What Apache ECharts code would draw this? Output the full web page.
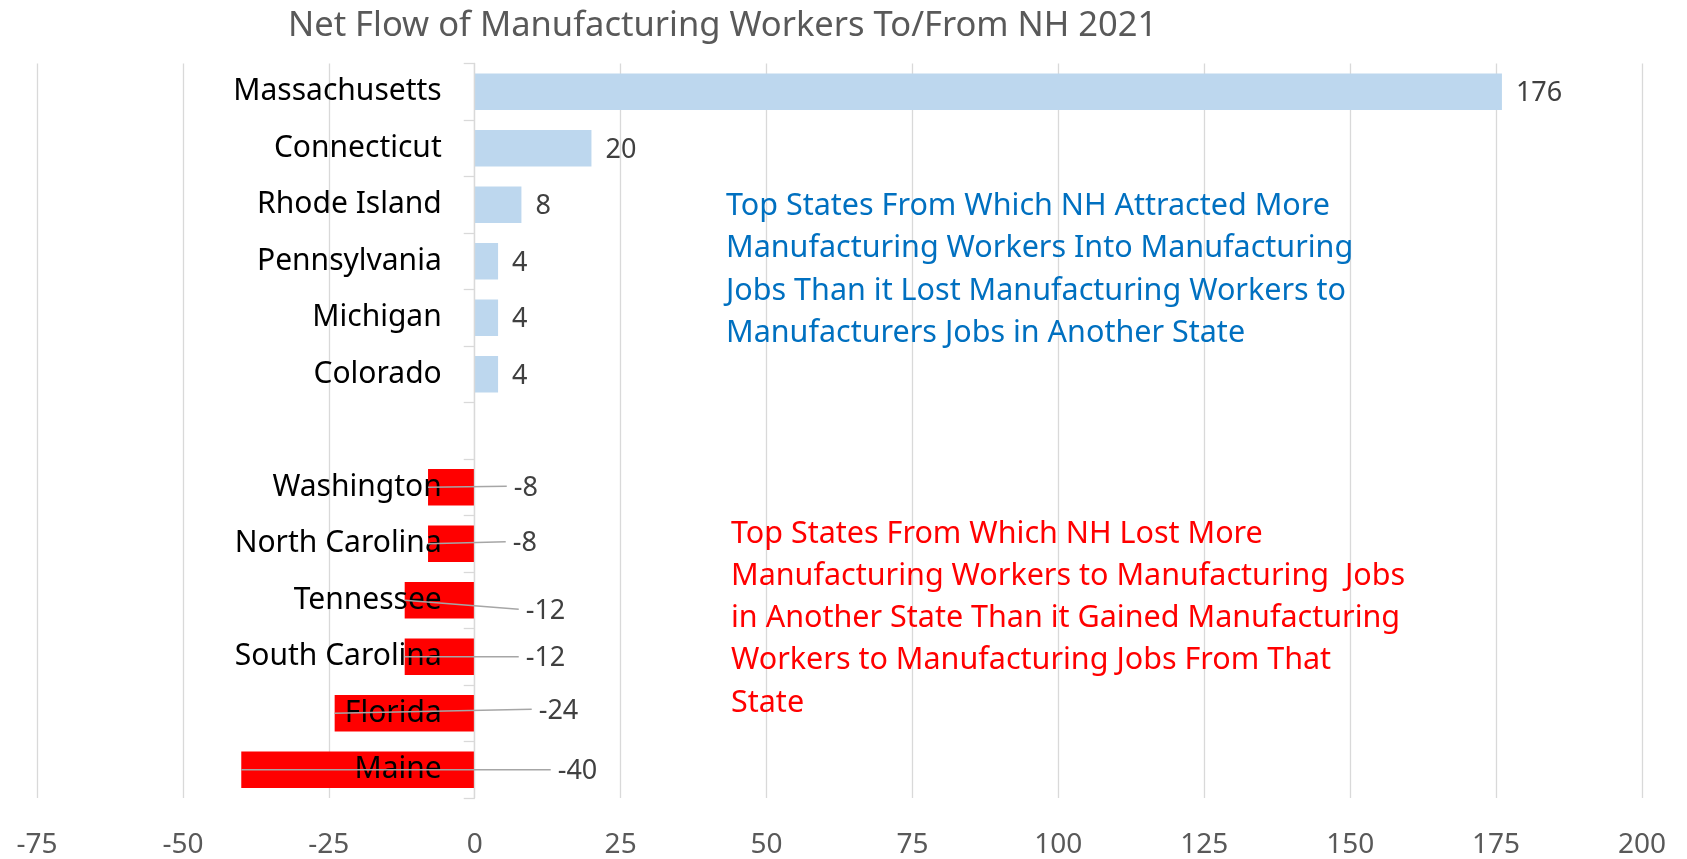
<!DOCTYPE html>
<html>
<head>
<meta charset="utf-8">
<script src="https://cdn.jsdelivr.net/npm/echarts@6/dist/echarts.min.js"></script>
<style>
html,body{margin:0;padding:0;background:#fff;}
#chart{width:1687px;height:859px;}
</style>
</head>
<body>
<div id="chart"></div>
<script>
const titleText = 'Net Flow of Manufacturing Workers To/From NH 2021';
const states = ['Massachusetts','Connecticut','Rhode Island','Pennsylvania','Michigan','Colorado','',
  'Washington','North Carolina','Tennessee','South Carolina','Florida','Maine'];
const netFlow = [176, 20, 8, 4, 4, 4, null, -8, -8, -12, -12, -24, -40];
const xTickMin = -75, xTickMax = 200, xTickStep = 25;
const gainNote = ['Top States From Which NH Attracted More',
  'Manufacturing Workers Into Manufacturing',
  'Jobs Than it Lost Manufacturing Workers to',
  'Manufacturers Jobs in Another State'];
const lossNote = ['Top States From Which NH Lost More',
  'Manufacturing Workers to Manufacturing  Jobs',
  'in Another State Than it Gained Manufacturing',
  'Workers to Manufacturing Jobs From That',
  'State'];

// layout: pixel nudges for the moved negative labels (relative to the zero line)
const negLabelNudge = {7:[39,0], 8:[38,-1], 9:[51,10], 10:[51,1], 11:[64,-3], 12:[83,1]};

const FONT = '"Noto Sans", "Open Sans", sans-serif';
const BLUE_BAR = '#BDD7EE', RED_BAR = '#FF0000';
const GRID_LEFT = 37;

const barData = netFlow.map(v => v == null ? null : {
  value: v,
  itemStyle: {color: v >= 0 ? BLUE_BAR : RED_BAR},
  label: {show: v >= 0}
});
const negData = [];
netFlow.forEach((v, i) => { if (v != null && v < 0) negData.push([v, i]); });

const chart = echarts.init(document.getElementById('chart'));
chart.setOption({
  animation: false,
  title: {
    text: titleText, left: 283, top: 4,
    textStyle: {fontFamily: FONT, fontSize: 34.5, fontWeight: 'normal', color: '#595959'}
  },
  grid: {left: GRID_LEFT, right: 45, top: 63.5, bottom: 61, containLabel: false, outerBoundsMode: 'none'},
  xAxis: {
    type: 'value', min: xTickMin, max: xTickMax, interval: xTickStep,
    axisLine: {show: false}, axisTick: {show: false},
    splitLine: {lineStyle: {color: '#D9D9D9', width: 1.3}},
    axisLabel: {fontFamily: FONT, fontSize: 28, color: '#595959', margin: 33}
  },
  yAxis: {
    type: 'category', data: states, inverse: true, z: 5, offset: 0,
    axisLine: {onZero: false, lineStyle: {color: '#D9D9D9', width: 1.3}},
    axisTick: {show: true, length: 11, lineStyle: {color: '#D9D9D9', width: 1.3}},
    axisLabel: {fontFamily: FONT, fontSize: 30, color: '#000000', margin: 33, padding: [4, 0, 0, 0]},
    splitLine: {show: false}
  },
  series: [{
    type: 'bar', data: barData, barCategoryGap: '35%', z: 2,
    label: {position: 'right', distance: 14, offset: [0, 2], fontFamily: FONT, fontSize: 27, color: '#404040'}
  }, {
    type: 'custom', data: negData, z: 8,
    encode: {x: 0, y: 1},
    renderItem: function (params, api) {
      const v = api.value(0), ci = api.value(1);
      const start = api.coord([v, ci]);
      const zero = api.coord([0, ci]);
      const nudge = negLabelNudge[ci] || [40, 0];
      const tx = zero[0] + nudge[0], ty = zero[1] + nudge[1];
      return {
        type: 'group',
        children: [{
          type: 'line',
          shape: {x1: start[0], y1: start[1], x2: tx - 7, y2: ty - 1},
          style: {stroke: '#A6A6A6', lineWidth: 1.3}
        }, {
          type: 'text',
          style: {text: String(v), x: tx, y: ty + 1, verticalAlign: 'middle', align: 'left',
                  font: '27px ' + FONT, fill: '#404040'}
        }]
      };
    }
  }],
  graphic: [{
    type: 'text', left: 726, top: 185, z: 10,
    style: {text: gainNote.join('\n'), font: '30.5px ' + FONT, fill: '#0070C0', lineHeight: 42.4}
  }, {
    type: 'text', left: 731, top: 513, z: 10,
    style: {text: lossNote.join('\n'), font: '30.5px ' + FONT, fill: '#FF0000', lineHeight: 42.2}
  }]
});
// move the category axis (line, ticks, labels) to the value-axis zero position
const zeroX = chart.convertToPixel({xAxisIndex: 0}, 0);
chart.setOption({yAxis: {offset: -(zeroX - GRID_LEFT)}});
</script>
</body>
</html>
